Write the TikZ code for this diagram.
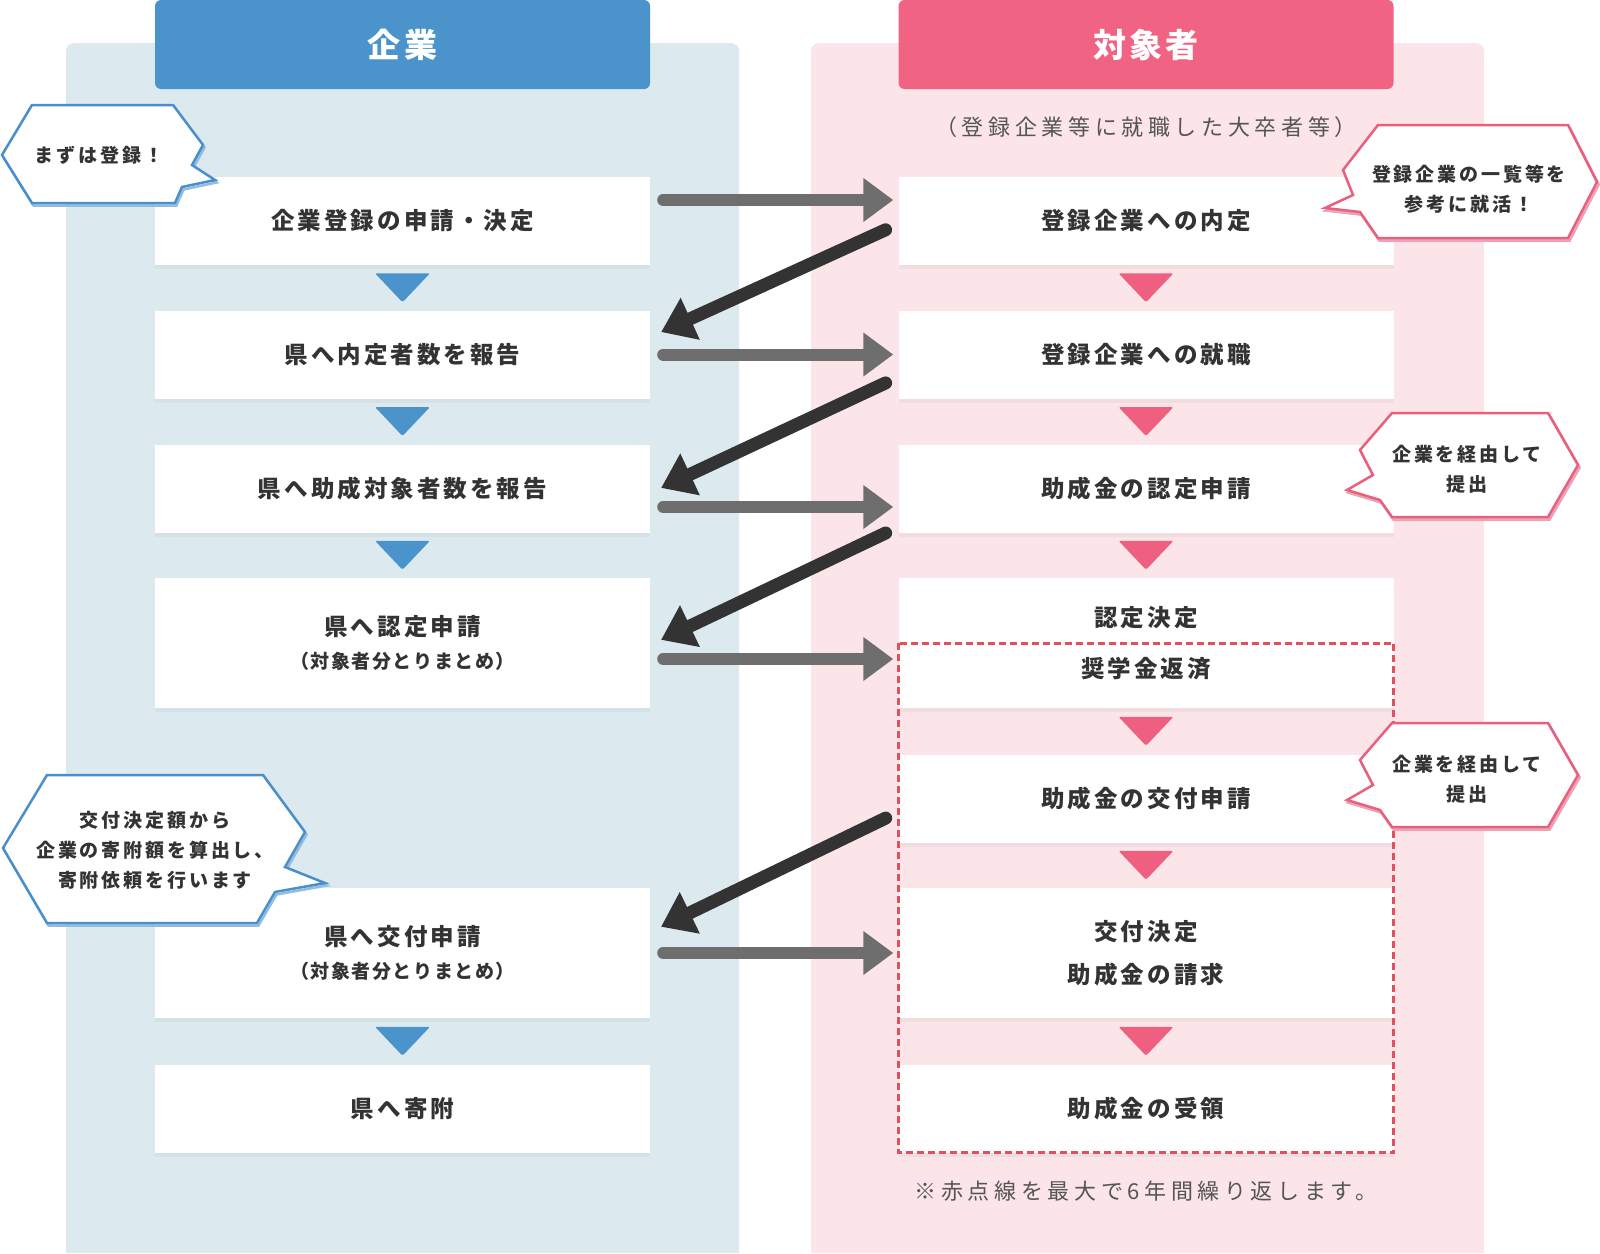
\documentclass[tikz,border=0pt]{standalone}
\usepackage{fontspec}
\usepackage{tikz}
\usetikzlibrary{arrows.meta,positioning,shadows,calc}

\newfontfamily\jpbox{Noto Sans CJK JP}[LetterSpace=13]
\newfontfamily\jpsub{Noto Sans CJK JP}[LetterSpace=8]
\newfontfamily\jphead{Noto Sans CJK JP}[LetterSpace=10]
\newfontfamily\jpcall{Noto Sans CJK JP}[LetterSpace=15]
\newfontfamily\jpnote{Noto Sans CJK JP}[LetterSpace=21]

\newcommand\boxfont{\jpbox\bfseries\fontsize{23.5}{33}\selectfont}
\newcommand\subfont{\jpsub\bfseries\fontsize{19}{33}\selectfont}
\newcommand\headfont{\jphead\bfseries\fontsize{33}{36}\selectfont}
\newcommand\callfont{\jpcall\bfseries\fontsize{19}{30}\selectfont}
\newcommand\notefont{\jpnote\fontsize{22}{24}\selectfont}

\definecolor{panelB}{HTML}{DCEAEF}
\definecolor{panelP}{HTML}{FBE5E9}
\definecolor{hdrB}{HTML}{4A93CB}
\definecolor{hdrP}{HTML}{F06383}
\definecolor{triB}{HTML}{4A93CB}
\definecolor{triP}{HTML}{EE5F80}
\definecolor{fwdGray}{HTML}{6E6E6E}
\definecolor{backDark}{HTML}{333333}
\definecolor{dashRed}{HTML}{E2505E}
\definecolor{callB}{HTML}{4A8FCB}
\definecolor{callP}{HTML}{E9607E}
\definecolor{ink}{HTML}{333333}
\definecolor{inkSoft}{HTML}{555555}

\begin{document}
\begin{tikzpicture}[
    x=1pt, y=-1pt,
    box/.style={fill=white, minimum width=495pt, minimum height=88pt, inner sep=0pt, align=center, font=\boxfont, text=ink,
        drop shadow={shadow xshift=0pt, shadow yshift=-4pt, opacity=0.08}},
    tall/.style={minimum height=130pt},
    hdr/.style={minimum width=495pt, minimum height=89pt, rounded corners=6pt, font=\headfont, text=white},
    fwd/.style={-{Triangle[length=30pt,width=42pt]}, line width=12pt, line cap=round, draw=fwdGray, shorten <=13pt, shorten >=5pt},
    back/.style={-{Triangle[length=32pt,width=44pt]}, line width=13pt, line cap=round, draw=backDark, shorten <=14pt, shorten >=12pt},
    bubB/.style={fill=white, draw=callB, line width=2.5pt, line join=miter,
        preaction={draw=callB!60, line width=2.5pt, transform canvas={xshift=1.5pt, yshift=-2.5pt}}},
    bubP/.style={bubB, draw=callP, preaction={draw=callP!60, line width=2.5pt, transform canvas={xshift=1.5pt, yshift=-2.5pt}}},
    bubtxt/.style={align=center, font=\callfont, text=ink, inner sep=0pt},
    note/.style={font=\notefont, text=inkSoft, inner sep=0pt}
]
\useasboundingbox (0,0) rectangle (1600,1253);

% --- Column panels: left = company, right = graduates ---
\fill[panelB] (66,1253) [rounded corners=8pt] -- (66,43) -- (739,43) [sharp corners] -- (739,1253) -- cycle;
\fill[panelP] (811,1253) [rounded corners=8pt] -- (811,43) -- (1484,43) [sharp corners] -- (1484,1253) -- cycle;

\node[hdr, fill=hdrB] (hcomp) at (402.5,44.5) {企業};
\node[hdr, fill=hdrP] (hgrad) at (1146,44.5) {対象者};

\node[note] (sub) at (1146,127) {（登録企業等に就職した大卒者等）};

% Left column
\node[box]       (l1) at (402.5,221)   {企業登録の申請・決定};
\node[box]       (l2) at (402.5,354.5) {県へ内定者数を報告};
\node[box]       (l3) at (402.5,488.5) {県へ助成対象者数を報告};
\node[box, tall] (l4) at (402.5,643)   {県へ認定申請\\{\subfont（対象者分とりまとめ）}};
\node[box, tall] (l6) at (402.5,953)   {県へ交付申請\\{\subfont（対象者分とりまとめ）}};
\node[box]       (l7) at (402.5,1108.5) {県へ寄附};

% Right column
\node[box]       (r1) at (1146,221)   {登録企業への内定};
\node[box]       (r2) at (1146,354.5) {登録企業への就職};
\node[box]       (r3) at (1146,488.5) {助成金の認定申請};
\node[box, tall] (r4) at (1146,643)   {認定決定\\[18pt]奨学金返済};
\node[box]       (r5) at (1146,798.5) {助成金の交付申請};
\node[box, tall] (r6) at (1146,953)   {交付決定\\[10pt]助成金の請求};
\node[box]       (r7) at (1146,1108.5) {助成金の受領};

% === Step triangles ===
\foreach \a/\b in {l1/l2,l2/l3,l3/l4,l6/l7}
  \fill[triB, rounded corners=1.5pt] ($(\a.south)!0.5!(\b.north)$) ++(-27.5,-14.5) -- ++(55,0) -- ++(-27.5,29) -- cycle;
\foreach \a/\b in {r1/r2,r2/r3,r3/r4,r4/r5,r5/r6,r6/r7}
  \fill[triP, rounded corners=1.5pt] ($(\a.south)!0.5!(\b.north)$) ++(-27.5,-14.5) -- ++(55,0) -- ++(-27.5,29) -- cycle;

% repeated part (up to 6 years)
\draw[dashRed, line width=3pt, dash pattern=on 7pt off 4pt] (r4.west) rectangle (r7.south east);
\node[note, font=\jpnote\fontsize{22}{24}\selectfont] (foot) at (1146,1191) {※赤点線を最大で6年間繰り返します。};

% === Transitions ===
% company -> graduate
\draw[fwd] ([yshift=21pt]l1.east) -- ([yshift=21pt]r1.west);
\draw[fwd] (l2.east) -- (r2.west);
\draw[fwd] ([yshift=-18.5pt]l3.east) -- ([yshift=-18.5pt]r3.west);
\draw[fwd] ([yshift=-16pt]l4.east) -- ([yshift=-16pt]r4.west);
\draw[fwd] (l6.east) -- (r6.west);

% graduate -> company
\draw[back] ([yshift=-3pt]r1.west) -- ([yshift=17.5pt]l2.east);
\draw[back] ([yshift=-22.5pt]r2.west) -- ([yshift=-4.5pt]l3.east);
\draw[back] ([yshift=-38.5pt]r3.west) -- ([yshift=-2pt]l4.east);
\draw[back] ([yshift=-13.5pt]r5.west) -- ([yshift=21pt]l6.east);

% === Speech bubbles ===
\draw[bubB] (2,155) -- (32,105) -- (173,105) -- (203,145) -- (192,165) -- (215,180) -- (182,187) -- (175,203) -- (32,203) -- cycle;
\node[bubtxt] (tip1) at (99,155) {まずは登録！};

\draw[bubP] (1378,125) -- (1568,125) -- (1597,182) -- (1568,238) -- (1378,238) -- (1360,212) -- (1325,208) -- (1353,195) -- (1343,170) -- cycle;
\node[bubtxt] (tip2) at (1469,189) {登録企業の一覧等を\\参考に就活！};

\foreach \r/\dy in {3/0,5/310} {
  \draw[bubP] (1392,413+\dy) -- (1548,413+\dy) -- (1578,465+\dy) -- (1548,517+\dy) -- (1392,517+\dy) -- (1380,500+\dy) -- (1347,490+\dy) -- (1373,475+\dy) -- (1360,450+\dy) -- cycle;
  \node[bubtxt] (via\r) at (1467,469+\dy) {企業を経由して\\提出};
}

\draw[bubB] (47,775) -- (263,775) -- (305,832) -- (285,867) -- (325,883) -- (275,892) -- (257,923) -- (47,923) -- (3,848) -- cycle;
\node[bubtxt] (tip5) at (155,850) {交付決定額から\\企業の寄附額を算出し、\\寄附依頼を行います};

\end{tikzpicture}
\end{document}
